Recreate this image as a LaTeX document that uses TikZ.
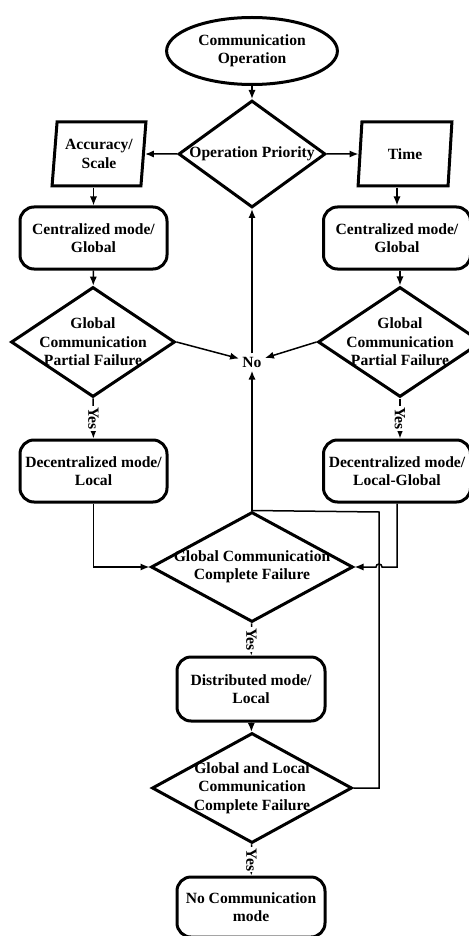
\documentclass[tikz,border=0pt]{standalone}
\usepackage{fontspec}
\setmainfont{Liberation Serif}
\usetikzlibrary{shapes.geometric,arrows.meta}

\tikzset{
  every node/.style={font=\fontsize{7.8}{9.2}\selectfont\bfseries, align=center},
  border/.style={draw, line width=1.5pt},
  modebox/.style={border, rectangle, rounded corners=7pt, minimum width=73.5pt, minimum height=31pt, inner sep=1pt},
  cond/.style={border, diamond, inner sep=0pt},
  slanted/.style={border, trapezium, trapezium left angle=82, trapezium right angle=98, trapezium stretches=true, minimum width=47pt, minimum height=32pt, inner sep=0pt},
  link/.style={line width=0.75pt, -{Latex[length=4.5pt,width=3.6pt]}},
  yes/.style={rotate=-90, fill=white, inner sep=0.6pt}
}

\begin{document}
\begin{tikzpicture}[x=0.5pt, y=-0.5pt]
\useasboundingbox (0,0) rectangle (469,936);

\def\xl{93.5}; % left column
\def\xm{252}; % middle column
\def\xr{397}; % right column
\def\xh{379}; % return line

\node[border, ellipse, minimum width=70pt, minimum height=33.5pt] (op) at (\xm, 51) {Communication\\Operation};
\node[cond, minimum width=73.5pt, minimum height=53.5pt] (prio) at (\xm, 154) {};
\node at (prio) {Operation Priority};

\node[slanted] (acc) at (99, 154) {Accuracy/\\Scale};
\node[slanted] (time) at (405, 154) {Time};

\node[modebox] (cl) at (\xl, 238) {Centralized mode/\\Global};
\node[modebox] (cr) at (\xr, 238) {Centralized mode/\\Global};

\node[cond, minimum width=82pt, minimum height=55pt] (gpl) at (93, 342) {};
\node at (gpl) {Global\\Communication\\Partial Failure};
\node[cond, minimum width=82pt, minimum height=55pt] (gpr) at (400, 342) {};
\node at (gpr) {Global\\Communication\\Partial Failure};

\node[inner sep=1.5pt] (no) at (\xm, 362) {No};

\node[modebox] (dl) at (\xl, 471) {Decentralized mode/\\Local};
\node[modebox] (dr) at (\xr, 471) {Decentralized mode/\\Local-Global};

\node[cond, minimum width=101pt, minimum height=55pt] (gcf) at (\xm, 567) {};
\node at (gcf) {Global Communication\\Complete Failure};

\node[modebox, minimum width=74pt, minimum height=32pt] (dist) at (251, 689) {Distributed mode/\\Local};

\node[cond, minimum width=100pt, minimum height=55pt] (glc) at (\xm, 788) {};
\node at (glc) {Global and Local\\Communication\\Complete Failure};

\node[modebox, minimum width=74pt, minimum height=30pt] (ncm) at (251, 907) {No Communication\\mode};

% priority split
\draw[link] (op) -- (prio);
\draw[link] (prio.west) -- (acc);
\draw[link] (prio.east) -- (time);
\draw[link] (acc.south -| cl.north) -- (cl);
\draw[link] (time.south -| cr.north) -- (cr);
\draw[link] (cl) -- (gpl);
\draw[link] (cr.south -| gpr.north) -- (gpr);

% partial failure
\draw[link] (gpl) -- node[yes] {Yes} (dl);
\draw[link] (gpr.south) -- node[yes] {Yes} (gpr.south |- dl.north);
\draw[link] (gpl.east) -- (no);
\draw[link] (gpr.west) -- (no);
\draw[link] (no) -- (prio.south);
\draw[line width=1.1pt, -{Latex[length=4.5pt,width=3.6pt]}] (gcf.north) -- (no);

% complete failure
\draw[link] (dl) |- (gcf.west);
\draw[link] (dr) |- (\xh+3, 567) arc[start angle=0, end angle=180, radius=1.5pt] -- (gcf.east);
\draw[line width=0.75pt] (glc.east) -| (\xh, 512) -- (gcf.north);

\draw[link] (gcf) -- node[yes] {Yes} (dist);
\draw[link] (dist) -- (glc);
\draw[link] (glc) -- node[yes] {Yes} (ncm);

\end{tikzpicture}
\end{document}
